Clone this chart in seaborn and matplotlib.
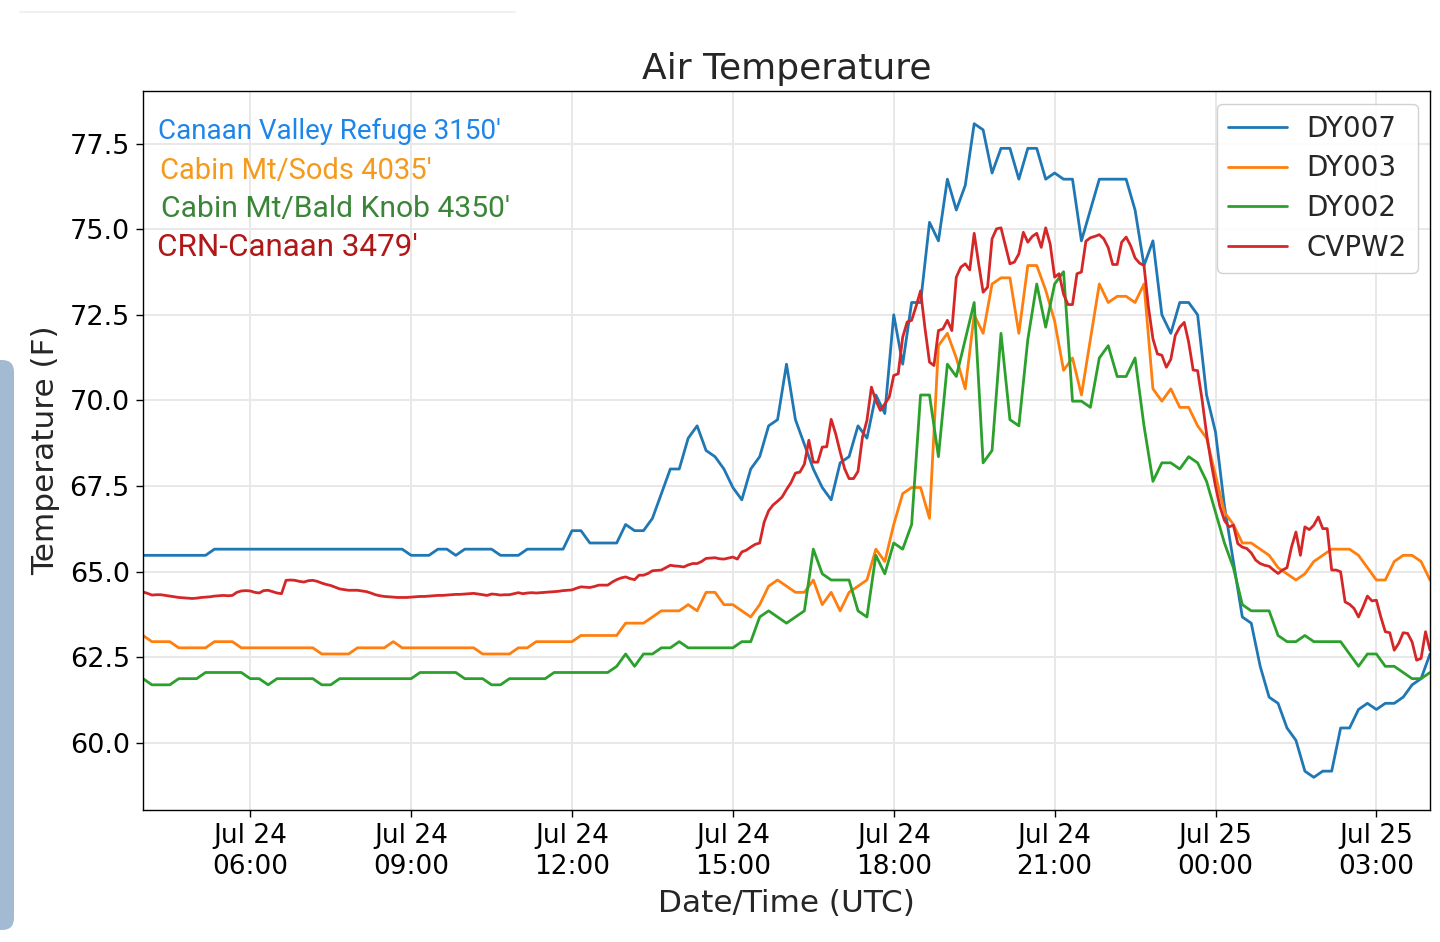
import numpy as np
import pandas as pd
import matplotlib
matplotlib.use("Agg")
import matplotlib.pyplot as plt
import matplotlib.dates as mdates
from matplotlib.patches import FancyBboxPatch
from matplotlib.lines import Line2D
from matplotlib.transforms import IdentityTransform
import seaborn as sns

# ---------------- data (values in deg F) ----------------
start_time = "2018-07-24 04:00"

# 10-minute stations
dy007 = [
    65.48, 65.48, 65.48, 65.48, 65.48, 65.48, 65.48, 65.48, 65.66, 65.66,
    65.66, 65.66, 65.66, 65.66, 65.66, 65.66, 65.66, 65.66, 65.66, 65.66,
    65.66, 65.66, 65.66, 65.66, 65.66, 65.66, 65.66, 65.66, 65.66, 65.66,
    65.48, 65.48, 65.48, 65.66, 65.66, 65.48, 65.66, 65.66, 65.66, 65.66,
    65.48, 65.48, 65.48, 65.66, 65.66, 65.66, 65.66, 65.66, 66.2, 66.2,
    65.84, 65.84, 65.84, 65.84, 66.38, 66.2, 66.2, 66.56, 67.28, 68.0,
    68.0, 68.9, 69.26, 68.54, 68.36, 68.0, 67.46, 67.1, 68.0, 68.36,
    69.26, 69.44, 71.06, 69.44, 68.72, 68.0, 67.46, 67.1, 68.18, 68.36,
    69.26, 68.9, 70.16, 69.62, 72.5, 71.06, 72.86, 72.86, 75.2, 74.66,
    76.46, 75.56, 76.28, 78.08, 77.9, 76.64, 77.36, 77.36, 76.46, 77.36,
    77.36, 76.46, 76.64, 76.46, 76.46, 74.66, 75.56, 76.46, 76.46, 76.46,
    76.46, 75.56, 73.94, 74.66, 72.5, 71.96, 72.86, 72.86, 72.5, 70.16,
    69.08, 66.92, 65.3, 63.68, 63.5, 62.24, 61.34, 61.16, 60.44, 60.08,
    59.18, 59.0, 59.18, 59.18, 60.44, 60.44, 60.98, 61.16, 60.98, 61.16,
    61.16, 61.34, 61.7, 61.88, 62.6,
]

dy003 = [
    63.14, 62.96, 62.96, 62.96, 62.78, 62.78, 62.78, 62.78, 62.96, 62.96,
    62.96, 62.78, 62.78, 62.78, 62.78, 62.78, 62.78, 62.78, 62.78, 62.78,
    62.6, 62.6, 62.6, 62.6, 62.78, 62.78, 62.78, 62.78, 62.96, 62.78,
    62.78, 62.78, 62.78, 62.78, 62.78, 62.78, 62.78, 62.78, 62.6, 62.6,
    62.6, 62.6, 62.78, 62.78, 62.96, 62.96, 62.96, 62.96, 62.96, 63.14,
    63.14, 63.14, 63.14, 63.14, 63.5, 63.5, 63.5, 63.68, 63.86, 63.86,
    63.86, 64.04, 63.86, 64.4, 64.4, 64.04, 64.04, 63.86, 63.68, 64.04,
    64.58, 64.76, 64.58, 64.4, 64.4, 64.76, 64.04, 64.4, 63.86, 64.4,
    64.58, 64.76, 65.66, 65.3, 66.38, 67.28, 67.46, 67.46, 66.56, 71.6,
    71.96, 71.24, 70.34, 72.5, 71.96, 73.4, 73.58, 73.58, 71.96, 73.94,
    73.94, 73.22, 72.32, 70.88, 71.24, 70.16, 71.78, 73.4, 72.86, 73.04,
    73.04, 72.86, 73.4, 70.34, 69.98, 70.34, 69.8, 69.8, 69.26, 68.9,
    67.82, 66.74, 66.38, 65.84, 65.84, 65.66, 65.48, 65.12, 64.94, 64.76,
    64.94, 65.3, 65.48, 65.66, 65.66, 65.66, 65.48, 65.12, 64.76, 64.76,
    65.3, 65.48, 65.48, 65.3, 64.76,
]

dy002 = [
    61.88, 61.7, 61.7, 61.7, 61.88, 61.88, 61.88, 62.06, 62.06, 62.06,
    62.06, 62.06, 61.88, 61.88, 61.7, 61.88, 61.88, 61.88, 61.88, 61.88,
    61.7, 61.7, 61.88, 61.88, 61.88, 61.88, 61.88, 61.88, 61.88, 61.88,
    61.88, 62.06, 62.06, 62.06, 62.06, 62.06, 61.88, 61.88, 61.88, 61.7,
    61.7, 61.88, 61.88, 61.88, 61.88, 61.88, 62.06, 62.06, 62.06, 62.06,
    62.06, 62.06, 62.06, 62.24, 62.6, 62.24, 62.6, 62.6, 62.78, 62.78,
    62.96, 62.78, 62.78, 62.78, 62.78, 62.78, 62.78, 62.96, 62.96, 63.68,
    63.86, 63.68, 63.5, 63.68, 63.86, 65.66, 64.94, 64.76, 64.76, 64.76,
    63.86, 63.68, 65.48, 64.94, 65.84, 65.66, 66.38, 70.16, 70.16, 68.36,
    71.06, 70.7, 71.78, 72.86, 68.18, 68.54, 71.96, 69.44, 69.26, 71.78,
    73.4, 72.14, 73.4, 73.76, 69.98, 69.98, 69.8, 71.24, 71.6, 70.7,
    70.7, 71.24, 69.26, 67.64, 68.18, 68.18, 68.0, 68.36, 68.18, 67.64,
    66.74, 65.84, 65.12, 64.04, 63.86, 63.86, 63.86, 63.14, 62.96, 62.96,
    63.14, 62.96, 62.96, 62.96, 62.96, 62.6, 62.24, 62.6, 62.6, 62.24,
    62.24, 62.06, 61.88, 61.88, 62.06,
]

# 5-minute station
cvpw2 = [
    64.41, 64.37, 64.32, 64.33, 64.33, 64.31, 64.29, 64.27, 64.25, 64.24,
    64.23, 64.22, 64.23, 64.25, 64.26, 64.27, 64.29, 64.3, 64.31, 64.3,
    64.31, 64.4, 64.44, 64.45, 64.44, 64.4, 64.38, 64.45, 64.46, 64.42,
    64.38, 64.36, 64.75, 64.76, 64.75, 64.72, 64.7, 64.74, 64.75, 64.72,
    64.67, 64.63, 64.6, 64.55, 64.5, 64.48, 64.46, 64.46, 64.46, 64.44,
    64.42, 64.38, 64.33, 64.3, 64.28, 64.27, 64.26, 64.25, 64.25, 64.25,
    64.26, 64.27, 64.28, 64.28, 64.29, 64.3, 64.31, 64.31, 64.32, 64.33,
    64.34, 64.34, 64.35, 64.36, 64.37, 64.35, 64.33, 64.31, 64.35, 64.34,
    64.32, 64.33, 64.33, 64.36, 64.39, 64.36, 64.38, 64.39, 64.38, 64.39,
    64.4, 64.41, 64.42, 64.43, 64.45, 64.46, 64.47, 64.52, 64.56, 64.55,
    64.54, 64.57, 64.61, 64.61, 64.61, 64.7, 64.77, 64.82, 64.85, 64.8,
    64.77, 64.9, 64.9, 64.95, 65.03, 65.04, 65.05, 65.12, 65.19, 65.17,
    65.16, 65.14, 65.2, 65.24, 65.24, 65.3, 65.39, 65.4, 65.41, 65.38,
    65.37, 65.4, 65.43, 65.37, 65.58, 65.63, 65.72, 65.8, 65.84, 66.45,
    66.78, 66.95, 67.06, 67.18, 67.4, 67.6, 67.88, 67.91, 68.14, 68.84,
    68.2, 68.2, 68.64, 68.65, 69.45, 69.03, 68.5, 68.01, 67.72, 67.72,
    67.93, 68.93, 69.42, 70.39, 70.0, 69.71, 69.9, 70.1, 70.73, 70.78,
    71.85, 72.29, 72.34, 72.75, 73.2, 72.1, 71.12, 71.02, 72.04, 72.09,
    72.34, 72.04, 73.6, 73.89, 73.99, 73.81, 74.88, 73.99, 73.16, 73.31,
    74.72, 75.01, 75.04, 74.52, 73.99, 74.04, 74.28, 74.91, 74.62, 74.79,
    74.88, 74.47, 75.04, 74.57, 73.6, 73.7, 73.1, 72.8, 72.8, 73.7,
    73.75, 74.65, 74.75, 74.79, 74.84, 74.72, 74.46, 73.97, 73.97, 74.62,
    74.77, 74.52, 74.16, 74.01, 73.94, 72.72, 71.8, 71.36, 71.32, 70.97,
    71.2, 71.9, 72.14, 72.28, 71.7, 70.89, 70.87, 70.02, 69.03, 68.2,
    67.5, 66.9, 66.5, 66.31, 66.36, 65.82, 65.72, 65.68, 65.55, 65.34,
    65.24, 65.19, 65.16, 65.05, 64.95, 65.05, 65.12, 65.72, 66.16, 65.48,
    66.31, 66.23, 66.36, 66.6, 66.26, 66.26, 65.05, 65.05, 65.0, 64.12,
    64.05, 63.93, 63.68, 63.97, 64.29, 64.15, 64.17, 63.68, 63.25, 63.22,
    62.71, 62.91, 63.22, 63.2, 62.95, 62.42, 62.47, 63.25, 62.71,
]

series_names = ["DY007", "DY003", "DY002", "CVPW2"]
series_colors = ["#1f77b4", "#ff7f0e", "#2ca02c", "#d62728"]
station_labels = ["Canaan Valley Refuge 3150'", "Cabin Mt/Sods 4035'",
                  "Cabin Mt/Bald Knob 4350'", "CRN-Canaan 3479'"]
station_colors = ["#1e86e8", "#f59a1c", "#3a8538", "#b01818"]

t10 = pd.date_range(start_time, periods=len(dy007), freq="10min")
t5 = pd.date_range(start_time, periods=len(cvpw2), freq="5min")

frames = [
    pd.DataFrame({"time": t10, "temp": dy007, "station": "DY007"}),
    pd.DataFrame({"time": t10, "temp": dy003, "station": "DY003"}),
    pd.DataFrame({"time": t10, "temp": dy002, "station": "DY002"}),
    pd.DataFrame({"time": t5, "temp": cvpw2, "station": "CVPW2"}),
]
df = pd.concat(frames, ignore_index=True)

# ---------------- style ----------------
sns.set_style("whitegrid", {
    "axes.edgecolor": "black",
    "axes.linewidth": 1.0,
    "grid.color": "#e8e8e8",
    "xtick.bottom": True,
    "ytick.left": True,
    "xtick.color": "black",
    "ytick.color": "black",
})
plt.rcParams["font.family"] = ["DejaVu Sans"]
plt.rcParams["xtick.direction"] = "out"
plt.rcParams["ytick.direction"] = "out"

fig = plt.figure(figsize=(14.4, 9.42), dpi=100)
W, H = 1440.0, 942.0
ax = fig.add_axes([143 / W, 1 - 810 / H, (1430 - 143) / W, (810 - 91) / H])

sns.lineplot(data=df, x="time", y="temp", hue="station",
             hue_order=series_names, palette=series_colors,
             linewidth=2.0, ax=ax, sort=False, estimator=None)

ax.set_xlim(t10[0], t10[-1])
ax.grid(True, color="#e8e8e8", linewidth=1.4)
for s in ax.spines.values():
    s.set_visible(True)
    s.set_color("black")
    s.set_linewidth(1.0)

ax.xaxis.set_major_locator(mdates.HourLocator(byhour=range(0, 24, 3)))
ax.xaxis.set_major_formatter(mdates.DateFormatter("%b %d\n%H:%M"))
ax.tick_params(axis="x", labelsize=19, length=5, width=1.0, pad=4.5)
ax.tick_params(axis="y", labelsize=19.5, length=5, width=1.0, pad=4.5)
for lbl in ax.get_xticklabels():
    lbl.set_linespacing(1.25)

ax.set_title("Air Temperature", fontsize=26, pad=9)
ax.set_xlabel("Date/Time (UTC)", fontsize=22.4, labelpad=6)
ax.set_ylabel("Temperature (F)", fontsize=22.4, labelpad=7)

leg = ax.legend(loc="upper right", fontsize=20, frameon=True,
                fancybox=True, framealpha=0.9, edgecolor="#cccccc",
                handlelength=2.1, handletextpad=0.7, borderaxespad=0.45,
                labelspacing=0.42)
for line in leg.get_lines():
    line.set_linewidth(2.0)

baselines = [139, 179, 217, 256]
xs = [158, 160, 161, 157]
sizes = [20.0, 21.0, 21.6, 22.6]
for txt, col, yb, xp, fs in zip(station_labels, station_colors, baselines, xs, sizes):
    fig.text(xp / W, 1 - yb / H, txt, color=col, fontsize=fs,
             family=["Roboto", "DejaVu Sans"], ha="left", va="baseline")

# screenshot decorations
bar = FancyBboxPatch((-20, 12), 34, 570,
                     boxstyle="round,pad=0,rounding_size=12",
                     transform=IdentityTransform(), facecolor="#a3bad3",
                     edgecolor="none")
fig.patches.append(bar)
fig.lines.append(Line2D([20 / W, 515 / W], [1 - 12 / H, 1 - 12 / H],
                        transform=fig.transFigure, color="#eeeeee",
                        linewidth=1.2))

fig.savefig("out.png", dpi=100)
